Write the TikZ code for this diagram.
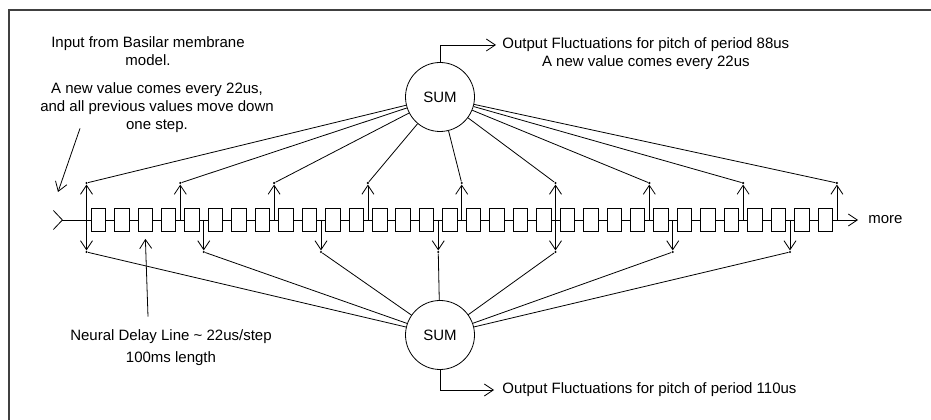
\documentclass[tikz,border=0pt]{standalone}
\usepackage{fontspec}
\setmainfont{Liberation Sans}
\usepackage{tikz}
\usetikzlibrary{arrows.meta,positioning}
\tikzstyle{dl}=[rectangle, draw=black, fill=white, inner sep=0pt, minimum width=14.5pt, minimum height=23pt]
\tikzstyle{sumc}=[circle, draw=black, inner sep=0pt, minimum size=69pt]
\tikzstyle{jn}=[circle, fill=black, inner sep=0pt, minimum size=2.4pt]
\tikzstyle{txt}=[inner sep=1pt]

\begin{document}
\begin{tikzpicture}[x=1pt, y=1pt, line width=0.8pt, >={Straight Barb[length=9pt,width=12pt]}, font=\fontsize{15}{18}\selectfont]
\useasboundingbox (0,0) rectangle (931,420);
% frame
\draw[black!75, line width=1.2pt] (9,0) -- (9,410) -- (931,410);
%
  \node[sumc] (sumtop) at (440,323) {SUM};
  \node[sumc] (sumbot) at (440,85) {SUM};
%
  \coordinate (inlet) at (53,200);
  \coordinate (outlet) at (858,200);
  \draw[{Straight Barb[reversed,length=9pt,width=19pt]}->] (inlet) -- (outlet);
  \node[txt, anchor=west] (more) [right=9pt of outlet] {more};
%
  \node[dl] (b0) at (98.25,200) {};
  \foreach \j [count=\i from 0] in {1,...,31}
    \node[dl] (b\j) [right=8.15pt of b\i] {};
%
  \foreach \j in {0,4,...,32}{
    \coordinate (tu\j) at (86.5+23.45*\j,200);
    \node[jn] (up\j) at (86.5+23.45*\j,237) {};
    \draw[->] (tu\j) -- (up\j);
    \draw (sumtop) -- (up\j);
  }
  \foreach \j in {0,5,...,30}{
    \coordinate (td\j) at (86.5+23.45*\j,200);
    \node[jn] (dn\j) at (86.5+23.45*\j,168) {};
    \draw[->] (td\j) -- (dn\j);
    \draw (sumbot) -- (dn\j);
  }
%
  \node[txt, anchor=west] (outtop) at (501,375) {Output Fluctuations for pitch of period 88us};
  \node[txt] (outtopb) [below=1pt of outtop] {A new value comes every 22us};
  \draw[->, shorten >=5pt] (sumtop.north) |- (outtop.west);
%
  \node[txt, anchor=west] (outbot) at (501,30) {Output Fluctuations for pitch of period 110us};
  \draw[->, shorten >=7pt] (sumbot.south) |- (outbot.west);
%
  \node[txt, align=center] (input) at (148,369) {Input from Basilar membrane\\model.};
  \node[txt, align=center] (newval) at (157,312) {A new value comes every 22us,\\and all previous values move down\\one step.};
  \coordinate (arrin) at (58,228);
  \draw[->] ([xshift=-77pt,yshift=6pt]newval.south) -- (arrin);
%
  \node[txt, align=center] (ndl) at (171,72) {Neural Delay Line \textasciitilde{} 22us/step\\[4pt]100ms length};
  \draw[->, shorten >=7pt] ([xshift=-23pt,yshift=12pt]ndl.north) -- (b2.south);
\end{tikzpicture}
\end{document}
